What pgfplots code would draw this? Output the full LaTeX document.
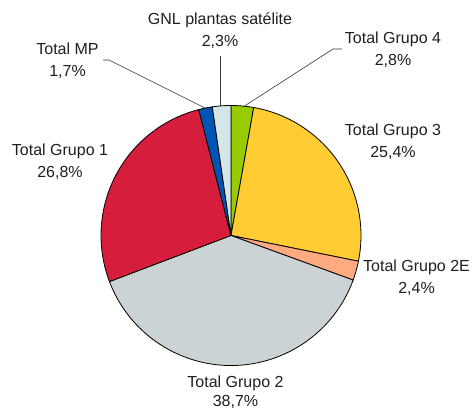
\documentclass[border=0pt]{standalone}
\usepackage{fontspec}
\setmainfont{Liberation Sans}
\usepackage{pgfplots}
\usepackage{pgfplotstable}
\pgfplotsset{compat=1.18}

\definecolor{cG4}{RGB}{153,204,0}
\definecolor{cG3}{RGB}{255,204,51}
\definecolor{cG2E}{RGB}{255,170,128}
\definecolor{cG2}{RGB}{204,211,213}
\definecolor{cG1}{RGB}{214,30,60}
\definecolor{cMP}{RGB}{0,84,180}
\definecolor{cGNL}{RGB}{212,230,230}

% shares in %, clockwise from 12 o'clock
\pgfplotstableread{
share color
2.8 cG4
25.4 cG3
2.4 cG2E
38.7 cG2
26.8 cG1
1.7 cMP
2.3 cGNL
}\piedata

\begin{document}
\begin{tikzpicture}
\begin{axis}[
    name=ax,
    x=1pt, y=1pt,
    xmin=0, xmax=474, ymin=0, ymax=411,
    hide axis, clip=false,
]
% total (sums to 100.1, so normalise)
\gdef\tot{0}
\foreach \i in {0,...,6}{
  \pgfplotstablegetelem{\i}{share}\of\piedata
  \pgfmathsetmacro\t{\tot+\pgfplotsretval}
  \xdef\tot{\t}
}
\gdef\start{90}
\foreach \i in {0,...,6}{
  \pgfplotstablegetelem{\i}{share}\of\piedata
  \let\v\pgfplotsretval
  \pgfplotstablegetelem{\i}{color}\of\piedata
  \let\c\pgfplotsretval
  \pgfmathsetmacro\eang{\start-360*\v/\tot}
  \pgfmathsetmacro\sx{231+130*cos(\start)}
  \pgfmathsetmacro\sy{175.5+130*sin(\start)}
  \edef\temp{\noexpand\filldraw[fill=\c, draw=black, line width=0.8pt]
    (axis cs:231,175.5) -- (axis cs:\sx,\sy)
    arc[start angle=\start, end angle=\eang, radius=130pt] -- cycle;}
  \temp
  \xdef\start{\eang}
}
% leader lines
\draw[black!80, line width=0.6pt] (axis cs:103,351) -- (axis cs:109,351) -- (axis cs:205,303);
\draw[black!80, line width=0.6pt] (axis cs:220,355) -- (axis cs:220,305);
\draw[black!80, line width=0.6pt] (axis cs:342,362) -- (axis cs:333,362) -- (axis cs:243,304);
% labels
\begin{scope}[every node/.style={align=center, font=\fontsize{16}{22}\selectfont, text=black!88}]
\node at (axis cs:220,380) {GNL plantas satélite\\2,3\%};
\node at (axis cs:67.5,350) {Total MP\\1,7\%};
\node at (axis cs:393,361) {Total Grupo 4\\2,8\%};
\node at (axis cs:393,269) {Total Grupo 3\\25,4\%};
\node at (axis cs:416.5,133) {Total Grupo 2E\\2,4\%};
\node at (axis cs:60,249) {Total Grupo 1\\26,8\%};
\node[font=\fontsize{16}{19}\selectfont] at (axis cs:235.5,19) {Total Grupo 2\\38,7\%};
\end{scope}
\end{axis}
\pgfresetboundingbox
\path[use as bounding box] (ax.south west) rectangle (ax.north east);
\end{tikzpicture}
\end{document}
